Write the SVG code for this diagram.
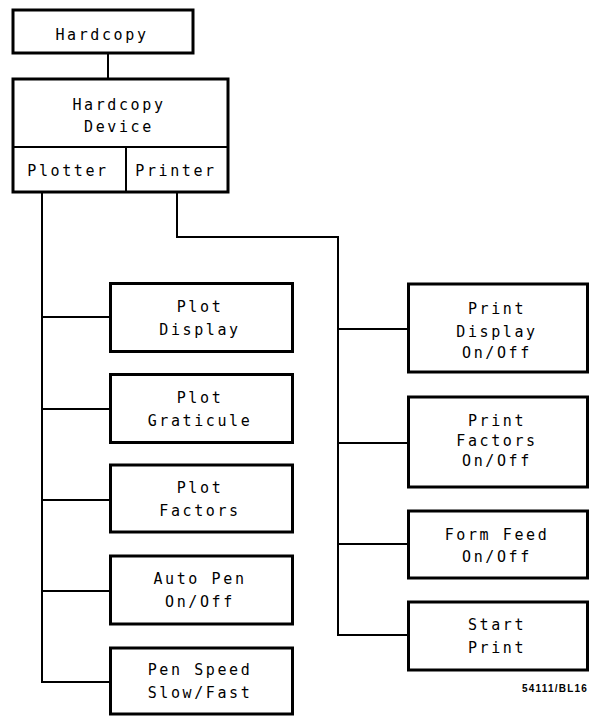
<svg xmlns="http://www.w3.org/2000/svg" width="591" height="716" viewBox="0 0 591 716">
<style>
.box{fill:#fff;stroke:#000;stroke-width:3}
.div{fill:none;stroke:#000;stroke-width:2}
.con{fill:none;stroke:#000;stroke-width:2}
text{font-family:"DejaVu Sans Mono","Liberation Mono",monospace;font-size:15px;letter-spacing:2.6px;text-anchor:middle;fill:#000}
.lab{font-family:"Liberation Sans",Arial,sans-serif;font-size:10px;font-weight:bold;letter-spacing:1.2px;text-anchor:end}
</style>
<rect width="591" height="716" fill="#fff"/>
<g id="connectors">
<path class="con" d="M108,54 V79"/>
<path class="con" d="M42,192 V682 H110"/>
<path class="con" d="M42,317 H110 M42,409 H110 M42,500 H110 M42,591 H110"/>
<path class="con" d="M177,192 V237 H338 V635 H408"/>
<path class="con" d="M338,329 H408 M338,443 H408 M338,544 H408"/>
</g>
<g id="hardcopy">
<rect class="box" x="13" y="10" width="180" height="43"/>
<text x="102" y="39.5">Hardcopy</text>
</g>
<g id="hardcopy-device">
<rect class="box" x="13" y="79" width="215" height="113"/>
<path class="div" d="M13,147 H228 M126,147 V192"/>
<text x="119" y="109.5">Hardcopy</text>
<text x="119" y="131.5">Device</text>
<text x="68" y="175.5">Plotter</text>
<text x="176" y="175.5">Printer</text>
</g>
<g id="plot-display">
<rect class="box" x="110.5" y="283.5" width="182" height="68"/>
<text x="200" y="311.5">Plot</text>
<text x="200" y="334.5">Display</text>
</g>
<g id="plot-graticule">
<rect class="box" x="110.5" y="374.5" width="182" height="68"/>
<text x="200" y="402.5">Plot</text>
<text x="200" y="425.5">Graticule</text>
</g>
<g id="plot-factors">
<rect class="box" x="110.5" y="465" width="182" height="67"/>
<text x="200" y="493">Plot</text>
<text x="200" y="516">Factors</text>
</g>
<g id="auto-pen">
<rect class="box" x="110.5" y="556" width="182" height="68"/>
<text x="200" y="584">Auto Pen</text>
<text x="200" y="607">On/Off</text>
</g>
<g id="pen-speed">
<rect class="box" x="110.5" y="648" width="182" height="66"/>
<text x="200" y="675">Pen Speed</text>
<text x="200" y="698">Slow/Fast</text>
</g>
<g id="print-display">
<rect class="box" x="408.5" y="284" width="179" height="88"/>
<text x="497" y="313.5">Print</text>
<text x="497" y="336.5">Display</text>
<text x="497" y="357.5">On/Off</text>
</g>
<g id="print-factors">
<rect class="box" x="408.5" y="397" width="179" height="90"/>
<text x="497" y="426">Print</text>
<text x="497" y="446">Factors</text>
<text x="497" y="466">On/Off</text>
</g>
<g id="form-feed">
<rect class="box" x="408.5" y="511" width="179" height="67"/>
<text x="497" y="539.5">Form Feed</text>
<text x="497" y="561.5">On/Off</text>
</g>
<g id="start-print">
<rect class="box" x="408.5" y="602" width="179" height="68"/>
<text x="497" y="629.5">Start</text>
<text x="497" y="652.5">Print</text>
</g>
<text class="lab" x="588" y="692">54111/BL16</text>
</svg>
